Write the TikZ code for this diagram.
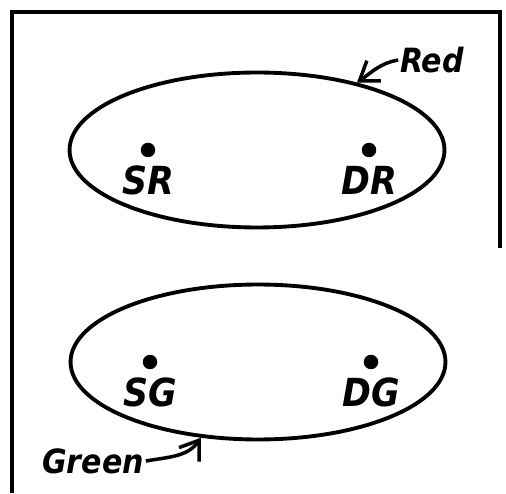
\documentclass[tikz,border=0pt]{standalone}
\usepackage{fontspec}
\setmainfont{DejaVu Sans Condensed}
\usepackage{tikz}
\usetikzlibrary{arrows.meta,shapes.geometric,positioning}
\definecolor{inkBlack}{RGB}{0,0,0}
\tikzset{
  setoval/.style={
    ellipse, draw=inkBlack, line width=2.2pt,
    minimum width=7.5cm, minimum height=3.1cm, inner sep=0pt
  },
  pointdot/.style={
    circle, fill=inkBlack, minimum size=0.29cm, inner sep=0pt
  },
  pointlabel/.style={inner sep=0pt, font=\fontsize{22}{22}\selectfont\bfseries\itshape},
  setlabel/.style={inner sep=1pt, font=\fontsize{19}{19}\selectfont\bfseries\itshape},
  pointerArrow/.style={-{Straight Barb[length=10pt,width=14pt]}, line width=2pt, color=inkBlack}
}
\begin{document}
\begin{tikzpicture}[x=0.02cm, y=0.02cm]
        \useasboundingbox (0,0) rectangle (506,493);
        % frame, open at the bottom and lower right
        \draw[line width=2.3pt, inkBlack] (12,0) -- (12,481) -- (500,481) -- (500,245);
        % red set
        \node[setoval] (redset) at (257,343) {};
        \node[pointdot] (sr) at (148,343) {};
        \node[pointdot] (dr) at (369,343) {};
        \node[pointlabel, below=0.16cm of sr] (srl) {SR};
        \node[pointlabel, below=0.16cm of dr] (drl) {DR};
        \node[setlabel] (redl) at (432,433) {Red};
        \draw[pointerArrow] (redl.west) to[out=190, in=35] (redset.34);
        % green set
        \node[setoval] (greenset) at (258,131) {};
        \node[pointdot] (sg) at (150,131) {};
        \node[pointdot] (dg) at (371,131) {};
        \node[pointlabel, below=0.16cm of sg] (sgl) {SG};
        \node[pointlabel, below=0.16cm of dg] (dgl) {DG};
        \node[setlabel] (greenl) at (93,32) {Green};
        \draw[pointerArrow] (greenl.east) to[out=10, in=235] (greenset.233);
\end{tikzpicture}
\end{document}
